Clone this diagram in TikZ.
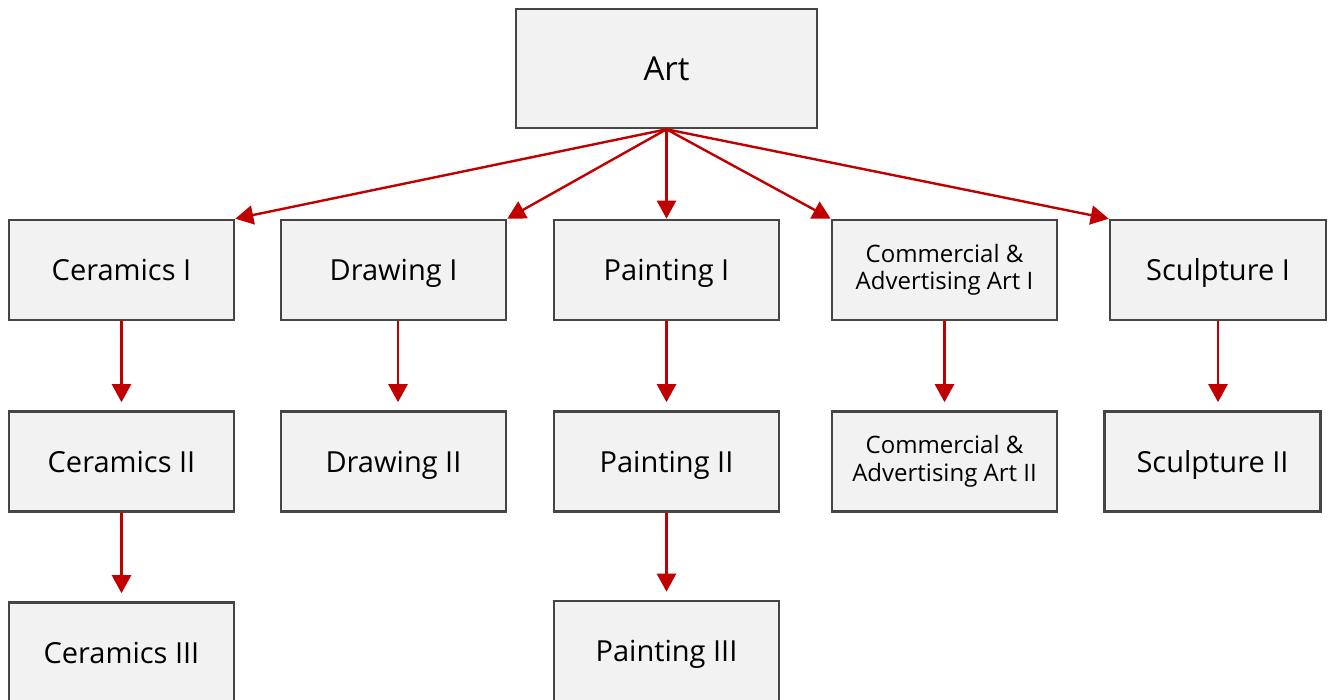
\documentclass[tikz,border=0pt]{standalone}
\usepackage{fontspec}
\setmainfont{Open Sans}
\usetikzlibrary{arrows.meta,positioning}

\definecolor{boxfill}{HTML}{F2F2F2}
\definecolor{boxline}{HTML}{454545}
\definecolor{linkred}{HTML}{C00000}

\tikzset{
  course/.style={draw=boxline, fill=boxfill, line width=2.6pt,
    minimum width=225pt, minimum height=100pt, inner sep=0pt,
    align=center, font=\fontsize{29}{34}\selectfont},
  oneline/.style={text height=21.5pt, text depth=0.5pt},
  smalltxt/.style={font=\fontsize{24}{27.5}\selectfont},
  link/.style={draw=linkred, line width=2.4pt,
    -{Triangle[length=18pt,width=19pt]}},
}

\begin{document}
\begin{tikzpicture}[x=1pt,y=-1pt]
  \useasboundingbox (0,0) rectangle (1328,700);
  \clip (0,0) rectangle (1328,700);

  % root
  \node[course, text height=24.5pt, text depth=0.5pt,
        minimum width=301pt, minimum height=119pt,
        font=\fontsize{33}{38}\selectfont] (art) at (666.5,68.5) {Art};

  % first-level courses
  \node[course, oneline] (cer1) at (121.5,270) {Ceramics I};
  \node[course, oneline] (drw1) at (393.5,270) {Drawing I};
  \node[course, oneline] (pnt1) at (666.5,270) {Painting I};
  \node[course, smalltxt] (com1) at (944.5,270) {Commercial \&\\Advertising Art I};
  \node[course, oneline, minimum width=216pt] (scu1) at (1218,270) {Sculpture I};

  % second-level courses
  \node[course, oneline] (cer2) at (121.5,461.5) {Ceramics II};
  \node[course, oneline] (drw2) at (393.5,461.5) {Drawing II};
  \node[course, oneline] (pnt2) at (666.5,461.5) {Painting II};
  \node[course, smalltxt] (com2) at (944.5,461.5) {Commercial \&\\Advertising Art II};
  \node[course, oneline, minimum width=216pt] (scu2) at (1212.5,461.5) {Sculpture II};

  % third-level courses
  \node[course, oneline] (cer3) at (121.5,652.5) {Ceramics III};
  \node[course, oneline] (pnt3) at (666.5,651) {Painting III};

  % links from the root
  \draw[link] (art.south) -- (cer1.north east);
  \draw[link] (art.south) -- (drw1.north east);
  \draw[link] (art.south) -- (pnt1.north);
  \draw[link] (art.south) -- (com1.north west);
  \draw[link] (art.south) -- (scu1.north west);

  % course sequences
  \draw[link, shorten >=8pt] (cer1.south) -- (cer2.north);
  \draw[link, shorten >=8pt] (cer2.south) -- (cer3.north);
  \draw[link, shorten >=8pt] ([xshift=4.5pt]drw1.south) -- ([xshift=4.5pt]drw1.south |- drw2.north);
  \draw[link, shorten >=8pt] (pnt1.south) -- (pnt2.north);
  \draw[link, shorten >=8pt] (pnt2.south) -- (pnt3.north);
  \draw[link, shorten >=8pt] (com1.south) -- (com2.north);
  \draw[link, shorten >=8pt] (scu1.south) -- (scu1.south |- scu2.north);
\end{tikzpicture}
\end{document}
